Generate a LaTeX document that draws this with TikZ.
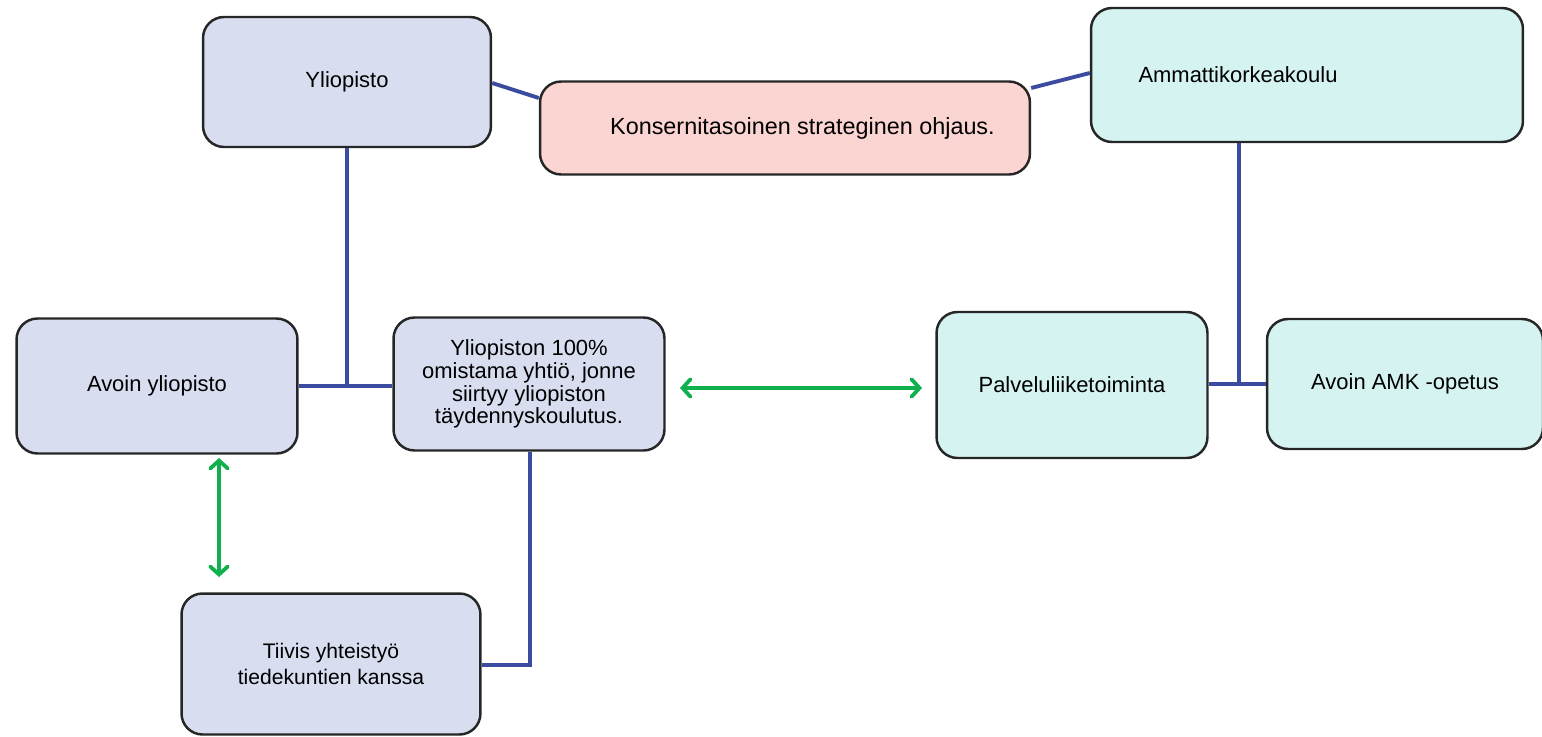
\documentclass[tikz,border=0pt]{standalone}
\usepackage{fontspec}
\setmainfont{Liberation Sans}
\usetikzlibrary{arrows.meta}
\definecolor{lav}{HTML}{D9DDF0}
\definecolor{pinkc}{HTML}{FBD5D1}
\definecolor{tealc}{HTML}{D4F3F1}
\definecolor{linkblue}{HTML}{3B4BA0}
\definecolor{arrgreen}{HTML}{10B04E}
\tikzset{
  box/.style={draw=black!85, line width=1.4pt, rounded corners=0.42cm, align=center,
    inner sep=2pt, font=\fontsize{12.5}{14.5}\selectfont},
  lavbox/.style={box, fill=lav},
  pinkbox/.style={box, fill=pinkc},
  tealbox/.style={box, fill=tealc},
  link/.style={draw=linkblue, line width=2.2pt},
  twoway/.style={draw=arrgreen, line width=2.2pt,
    {Straight Barb[length=4.5pt,width=10pt,line cap=round]}-{Straight Barb[length=4.5pt,width=10pt,line cap=round]}}
}
\begin{document}
\begin{tikzpicture}[x=0.02cm,y=-0.02cm]
\useasboundingbox (0,0) rectangle (1542,737);
% boxes: centre at pixel position, size in pixels
\node[lavbox, minimum width=5.76cm, minimum height=2.6cm] (yo) at (347,82) {Yliopisto};
\node[pinkbox, minimum width=9.8cm, minimum height=1.86cm, font=\fontsize{13.3}{15}\selectfont] (kons) at (785,128) {\hspace*{0.7cm}Konsernitasoinen strateginen ohjaus.};
\node[tealbox, minimum width=8.64cm, minimum height=2.68cm] (amk) at (1307,75) {\hspace*{-2.76cm}Ammattikorkeakoulu};
\node[lavbox, minimum width=5.62cm, minimum height=2.7cm] (ay) at (157,386) {Avoin yliopisto};
\node[lavbox, minimum width=5.42cm, minimum height=2.66cm, font=\fontsize{12.5}{13}\selectfont] (yhtio) at (529,384) {Yliopiston 100\%\\omistama yhtiö, jonne\\siirtyy yliopiston\\täydennyskoulutus.};
\node[tealbox, minimum width=5.42cm, minimum height=2.92cm] (palv) at (1072,385) {Palveluliiketoiminta};
\node[tealbox, minimum width=5.52cm, minimum height=2.6cm] (aamk) at (1405,384) {Avoin AMK -opetus};
\node[lavbox, minimum width=5.98cm, minimum height=2.82cm, font=\fontsize{12}{14.5}\selectfont] (tiivis) at (331,664) {Tiivis yhteistyö\\tiedekuntien kanssa};
% junction points
\coordinate (j1) at (347,386);
\coordinate (j2) at (530,665);
\coordinate (j3) at (1239,384);
% blue connectors
\draw[link] (yo.east |- 0,83) -- (kons.west |- 0,98);
\draw[link] (kons.east |- 0,88) -- (amk.west |- 0,73);
\draw[link] (yo.south) -- (j1);
\draw[link] (ay.east |- j1) -- (yhtio.west |- j1);
\draw[link] (yhtio.south -| j2) -- (j2) -- (tiivis.east |- j2);
\draw[link] (amk.south -| j3) -- (j3);
\draw[link] (palv.east |- j3) -- (aamk.west |- j3);
% green two-way arrows
\coordinate (g1) at (680,388);
\coordinate (g2) at (922,388);
\coordinate (g3) at (219,458);
\coordinate (g4) at (219,577);
\draw[twoway] (g1) -- (g2);
\draw[twoway] (g3) -- (g4);
\end{tikzpicture}
\end{document}
